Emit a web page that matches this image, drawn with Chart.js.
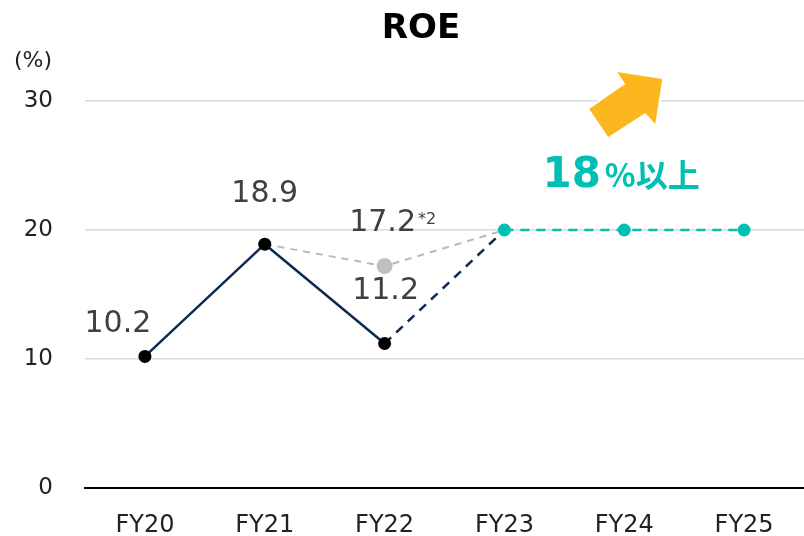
<!DOCTYPE html>
<html>
<head>
<meta charset="utf-8">
<script src="https://cdn.jsdelivr.net/npm/chart.js@4"></script>
<style>
  html, body { margin:0; padding:0; background:#fff; overflow:hidden; }
  canvas { display:block; }
</style>
</head>
<body>
<canvas id="roe" width="804" height="536"></canvas>
<script>
// ===== DATA =====
const years    = ['FY20','FY21','FY22','FY23','FY24','FY25'];
const actual   = [10.2, 18.9, 11.2, null, null, null];   // solid navy
const bridge   = [null, null, 11.2, 20, null, null];     // navy dashed FY22 -> FY23
const adjusted = [null, 18.9, 17.2, 20, null, null];     // grey dashed (*2)
const target   = [null, null, null, 20, 20, 20];         // teal plan
const yTicks   = [0, 10, 20, 30];
const valueLabels = [
  {ds:0, i:0, text:'10.2'},
  {ds:0, i:1, text:'18.9'},
  {ds:0, i:2, text:'11.2'},
  {ds:3, i:2, text:'17.2', note:'*2'},
];
const targetText = ['18', '%以上'];

const NAVY = '#0e2b50', TEAL = '#00bfb3', GREY = '#c0c0c0', ORANGE = '#fdb71e';
const FONT = "'DejaVu Sans', Verdana, sans-serif";

// label offsets (px) from the point
const labelOffset = [{dx:-27,dy:-32},{dx:0,dy:-50},{dx:1,dy:-52},{dx:-2,dy:-43}];

const decorPlugin = {
  id:'decor',
  afterDatasetsDraw(chart) {
    const ctx = chart.ctx, xs = chart.scales.x, ys = chart.scales.y;
    ctx.save();
    // value labels
    ctx.fillStyle = '#404040';
    ctx.textBaseline = 'middle';
    valueLabels.forEach((l, k) => {
      const p = chart.getDatasetMeta(l.ds).data[l.i];
      const o = labelOffset[k];
      ctx.font = '30px ' + FONT;
      ctx.textAlign = 'center';
      const x = p.x + o.dx, y = p.y + o.dy;
      ctx.fillText(l.text, x, y);
      if (l.note) {
        const w = ctx.measureText(l.text).width;
        ctx.font = '16px ' + FONT;
        ctx.textAlign = 'left';
        ctx.fillText(l.note, x + w/2 + 2, y - 3);
      }
    });

    // orange arrow
    const ax = xs.getPixelForValue(4), ay = ys.getPixelForValue(30);
    const pts = [[-35,8],[1,-17],[-7,-29],[38,-22],[31,23],[21,12],[-16,36]];
    ctx.beginPath();
    pts.forEach((q, j) => j ? ctx.lineTo(ax+q[0], ay+q[1]) : ctx.moveTo(ax+q[0], ay+q[1]));
    ctx.closePath();
    ctx.lineWidth = 4; ctx.strokeStyle = '#fff'; ctx.lineJoin = 'miter';
    ctx.stroke();
    ctx.fillStyle = ORANGE;
    ctx.fill();

    // target text
    const tx = xs.getPixelForValue(3) + 38, ty = ys.getPixelForValue(20) - 43;
    ctx.fillStyle = TEAL;
    ctx.textAlign = 'left';
    ctx.textBaseline = 'alphabetic';
    ctx.font = "bold 42px " + FONT;
    ctx.fillText(targetText[0], tx, ty);
    const w0 = ctx.measureText(targetText[0]).width;
    ctx.font = "bold 32px 'Noto Sans CJK JP', sans-serif";
    ctx.fillText(targetText[1], tx + w0 + 4, ty);

    // title & unit
    ctx.fillStyle = '#000';
    ctx.textAlign = 'center';
    ctx.textBaseline = 'middle';
    ctx.font = "bold 34px " + FONT;
    ctx.fillText('ROE', 421, 29);
    ctx.fillStyle = '#222';
    ctx.font = '22px ' + FONT;
    ctx.fillText('(%)', 33, 61);
    ctx.restore();
  }
};

new Chart(document.getElementById('roe'), {
  type:'line',
  data:{
    labels:years,
    datasets:[
      {label:'actual', data:actual, borderColor:NAVY, borderWidth:2.5,
       pointRadius:6.5, pointBackgroundColor:'#000', pointBorderWidth:0, spanGaps:false},
      {label:'target', data:target, borderColor:TEAL, borderWidth:2.5, borderDash:[9,7],
       pointRadius:6.5, pointBackgroundColor:TEAL, pointBorderWidth:0},
      {label:'bridge', data:bridge, borderColor:NAVY, borderWidth:2.5, borderDash:[9,7],
       pointRadius:0},
      {label:'adjusted', data:adjusted, borderColor:'#bbbbbb', borderWidth:2, borderDash:[7,6],
       pointRadius:[0,0,8,0,0,0], pointBackgroundColor:GREY, pointBorderWidth:0},
    ]
  },
  options:{
    responsive:false, animation:false, devicePixelRatio:1,
    layout:{autoPadding:false, padding:{top:101, right:0, left:0, bottom:0}},
    plugins:{legend:{display:false}, tooltip:{enabled:false}, title:{display:false}},
    scales:{
      x:{
        offset:true,
        grid:{display:false},
        border:{display:true, color:'#000', width:2},
        ticks:{color:'#222', font:{family:FONT, size:24}, padding:15},
        afterFit(s){ s.height = 48; s.paddingLeft = 0; s.paddingRight = 0; }
      },
      y:{
        min:0, max:30,
        afterBuildTicks(s){ s.ticks = yTicks.map(v => ({value:v})); },
        grid:{drawTicks:false, lineWidth:1.5, color:c => c.tick && c.tick.value === 0 ? 'rgba(0,0,0,0)' : '#d9d9d9'},
        border:{display:false},
        ticks:{color:'#222', font:{family:FONT, size:23}, padding:32},
        afterFit(s){ s.width = 85; }
      }
    }
  },
  plugins:[decorPlugin]
});
</script>
</body>
</html>
